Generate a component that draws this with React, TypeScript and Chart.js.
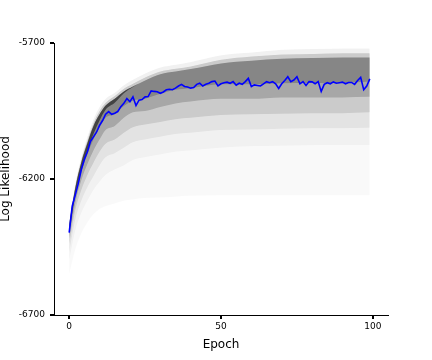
import React, { useEffect, useRef } from "react";
import { Chart, registerables } from "chart.js";

Chart.register(...registerables);

const epochs: number[] = Array.from({ length: 100 }, (_, i) => i);

const meanLL: number[] = [
  -6397, -6300, -6259, -6216, -6165, -6128, -6100, -6062, -6045, -6028,
  -6003, -5985, -5962, -5952, -5962, -5958, -5952, -5934, -5922, -5904,
  -5916, -5898, -5930, -5910, -5908, -5898, -5897, -5876, -5878, -5879,
  -5885, -5880, -5872, -5870, -5872, -5866, -5858, -5852, -5860, -5862,
  -5866, -5864, -5852, -5848, -5858, -5852, -5848, -5842, -5840, -5858,
  -5850, -5846, -5844, -5848, -5842, -5855, -5848, -5852, -5842, -5830,
  -5860, -5854, -5856, -5858, -5850, -5842, -5846, -5842, -5850, -5867,
  -5850, -5838, -5824, -5842, -5836, -5824, -5850, -5842, -5856, -5842,
  -5843, -5850, -5842, -5878, -5852, -5846, -5850, -5843, -5848, -5846,
  -5844, -5850, -5845, -5845, -5852, -5838, -5826, -5872, -5858, -5832,
];

// density levels of the sampled log-likelihood cloud, read per epoch
const cloudEpochs: number[] = [0, 2, 4, 6, 8, 10, 12, 15, 18, 21, 25, 30, 35, 40, 50, 60, 70, 80, 90, 99];
const cloudTop: number[] = [-6357, -6218, -6120, -6045, -5980, -5935, -5905, -5883, -5855, -5835, -5812, -5790, -5780, -5770, -5745, -5735, -5725, -5722, -5720, -5720];
const cloudUpper: number[] = [-6362, -6226, -6130, -6058, -5995, -5950, -5920, -5895, -5868, -5850, -5827, -5805, -5795, -5786, -5762, -5750, -5742, -5740, -5738, -5738];
const cloudDarkTop: number[] = [-6367, -6233, -6138, -6068, -6005, -5962, -5930, -5905, -5878, -5860, -5838, -5815, -5805, -5796, -5775, -5765, -5758, -5755, -5753, -5753];
const cloudCoreEarly: number[] = [-6400, -6260, -6165, -6095, -6035, -5985, -5945, -5920, -5885, -5862, -5838, -5815, -5805, -5796, -5775, -5765, -5758, -5755, -5753, -5753];
const cloudBotF: number[] = [-6405, -6265, -6175, -6110, -6055, -6012, -5975, -5962, -5932, -5912, -5905, -5887, -5872, -5866, -5852, -5852, -5848, -5847, -5847, -5842];
const cloudBotE: number[] = [-6420, -6290, -6205, -6145, -6095, -6055, -6020, -6005, -5975, -5955, -5950, -5935, -5922, -5915, -5905, -5905, -5900, -5900, -5900, -5898];
const cloudBotD: number[] = [-6440, -6315, -6240, -6185, -6140, -6100, -6070, -6055, -6030, -6010, -6000, -5990, -5980, -5975, -5965, -5962, -5960, -5958, -5958, -5955];
const cloudBotC: number[] = [-6470, -6350, -6280, -6230, -6190, -6150, -6120, -6105, -6085, -6065, -6055, -6045, -6035, -6030, -6020, -6018, -6015, -6013, -6013, -6012];
const cloudBotB: number[] = [-6500, -6390, -6325, -6280, -6240, -6210, -6185, -6165, -6150, -6130, -6120, -6110, -6100, -6095, -6085, -6080, -6078, -6076, -6075, -6075];
const cloudBotA: number[] = [-6550, -6460, -6400, -6360, -6330, -6310, -6300, -6290, -6280, -6275, -6270, -6268, -6265, -6262, -6260, -6260, -6260, -6260, -6260, -6260];

const xTicks: number[] = [0, 50, 100];
const yTicks: number[] = [-6700, -6200, -5700];

const pts = (xs: number[], ys: number[]) => xs.map((x, i) => ({ x, y: ys[i] }));

const edge = (data: any[], order: number) => ({
  type: "line" as const,
  data,
  borderWidth: 0,
  pointRadius: 0,
  fill: false,
  tension: 0.4,
  cubicInterpolationMode: "monotone",
  order,
});
const band = (data: any[], color: string, order: number) => ({
  type: "line" as const,
  data,
  borderWidth: 0,
  pointRadius: 0,
  fill: "-1",
  backgroundColor: color,
  tension: 0.4,
  cubicInterpolationMode: "monotone",
  order,
});

export default function App() {
  const ref = useRef<HTMLCanvasElement | null>(null);
  useEffect(() => {
    if (!ref.current) return;
    const font = "'DejaVu Sans', sans-serif";
    const layers: [number[], number[], string][] = [
      [cloudTop, cloudBotA, "rgba(0,0,0,0.025)"],
      [cloudTop, cloudBotB, "rgba(0,0,0,0.035)"],
      [cloudUpper, cloudBotC, "rgba(0,0,0,0.06)"],
      [cloudUpper, cloudBotD, "rgba(0,0,0,0.11)"],
      [cloudDarkTop, cloudBotE, "rgba(0,0,0,0.18)"],
      [cloudDarkTop, cloudBotF, "rgba(0,0,0,0.20)"],
      [cloudDarkTop, cloudCoreEarly, "rgba(0,0,0,0.50)"],
    ];
    const datasets: any[] = [];
    layers.forEach(([t, b, c], i) => {
      datasets.push(edge(pts(cloudEpochs, t), 20 - i));
      datasets.push(band(pts(cloudEpochs, b), c, 20 - i));
    });
    datasets.push({
      type: "line" as const,
      data: pts(epochs, meanLL),
      borderColor: "#0000ff",
      borderWidth: 1.6,
      pointRadius: 0,
      fill: false,
      order: 0,
    });
    const chart = new Chart(ref.current, {
      type: "line",
      data: { datasets },
      options: {
        responsive: false,
        animation: false,
        devicePixelRatio: 1,
        layout: { padding: { left: 0, top: 43, right: 44, bottom: 0 } },
        plugins: { legend: { display: false }, tooltip: { enabled: false } },
        scales: {
          x: {
            type: "linear",
            min: -5,
            max: 105,
            afterBuildTicks: (s: any) => {
              s.ticks = xTicks.map((v) => ({ value: v }));
            },
            afterFit: (s: any) => {
              s.height = 45;
            },
            grid: { display: true, drawOnChartArea: false, drawTicks: true, tickLength: 4, lineWidth: 2, color: "#000" },
            border: { display: true, color: "#000", width: 1 },
            ticks: { color: "#000", font: { family: font, size: 9 }, padding: 2, autoSkip: false, maxRotation: 0, callback: (v: any) => String(v) },
            title: { display: true, text: "Epoch", color: "#000", font: { family: font, size: 12 }, padding: { top: 0, bottom: 8 } },
          },
          y: {
            type: "linear",
            min: -6700,
            max: -5700,
            afterBuildTicks: (s: any) => {
              s.ticks = yTicks.map((v) => ({ value: v }));
            },
            afterFit: (s: any) => {
              s.width = 54;
            },
            grid: { display: true, drawOnChartArea: false, drawTicks: true, tickLength: 4, lineWidth: 2, color: "#000" },
            border: { display: true, color: "#000", width: 1 },
            ticks: { color: "#000", font: { family: font, size: 9 }, padding: 5, autoSkip: false, callback: (v: any) => String(v) },
            title: { display: true, text: "Log Likelihood", color: "#000", font: { family: font, size: 12, lineHeight: 1 }, padding: { top: 0, bottom: 0 } },
          },
        },
      } as any,
    });
    return () => chart.destroy();
  }, []);
  return (
    <div style={{ position: "absolute", left: 0, top: 0, width: 432, height: 360 }}>
      <canvas ref={ref} width={432} height={360} />
    </div>
  );
}
